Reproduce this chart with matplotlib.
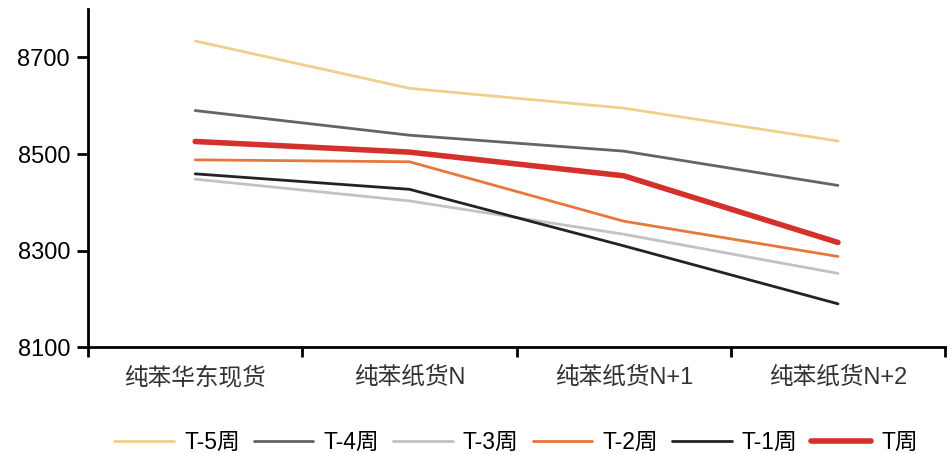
import matplotlib.pyplot as plt
import numpy as np

plt.rcParams['font.family'] = ['Liberation Sans', 'Noto Sans CJK SC', 'DejaVu Sans']

categories = ['纯苯华东现货', '纯苯纸货N', '纯苯纸货N+1', '纯苯纸货N+2']
series_names = ['T-5周', 'T-4周', 'T-3周', 'T-2周', 'T-1周', 'T周']
t5 = [8734, 8636, 8595, 8527]
t4 = [8590, 8539, 8506, 8435]
t3 = [8448, 8403, 8334, 8253]
t2 = [8488, 8484, 8361, 8288]
t1 = [8459, 8427, 8310, 8190]
t0 = [8526, 8504, 8455, 8317]

colors = ['#F0CF8C', '#62636B', '#C2C2C2', '#E8773A', '#222326', '#D4302C']
widths = [2, 2, 2, 2, 2, 4]

fig = plt.figure(figsize=(9.47, 4.54), dpi=100)
ax = fig.add_axes([0.093, 0.235, 0.905, 0.745])

x = np.arange(len(categories))
for vals, name, c, w in zip([t5, t4, t3, t2, t1, t0], series_names, colors, widths):
    ax.plot(x, vals, color=c, lw=w, label=name, solid_capstyle='round')

ax.set_xlim(-0.5, len(categories) - 0.5)
ax.set_ylim(8100, 8800)
ax.set_yticks([8100, 8300, 8500, 8700])
ax.set_xticks(x)
ax.set_xticklabels(categories)
ax.set_xticks(np.arange(-0.5, len(categories)), minor=True)
ax.tick_params(axis='x', which='major', length=0, pad=14, labelsize=17, colors='#333333')
ax.tick_params(axis='x', which='minor', length=7, width=2, direction='out')
ax.tick_params(axis='y', length=8, width=2, labelsize=17, pad=5)

for s in ['top', 'right']:
    ax.spines[s].set_visible(False)
for s in ['left', 'bottom']:
    ax.spines[s].set_linewidth(2)

fig.legend(loc='lower center', ncol=6, frameon=False, fontsize=16.5,
           bbox_to_anchor=(0.545, -0.045), handlelength=2.6, columnspacing=0.6,
           handletextpad=0.45)

fig.savefig('out.png', dpi=100)
